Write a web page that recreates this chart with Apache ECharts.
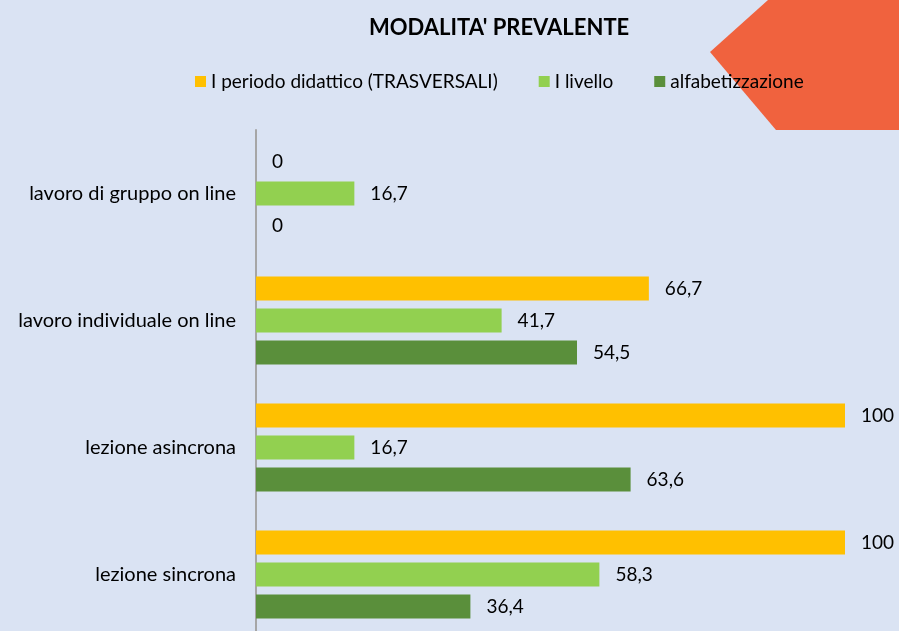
<!DOCTYPE html>
<html>
<head>
<meta charset="utf-8">
<script src="https://cdn.jsdelivr.net/npm/echarts@6/dist/echarts.min.js"></script>
<style>
  html, body { margin: 0; padding: 0; background: #dae3f3; }
  #chart { width: 899px; height: 631px; }
</style>
</head>
<body>
<div id="chart"></div>
<script>
    // categorie dall'alto verso il basso
    var categorie = ['lavoro di gruppo on line', 'lavoro individuale on line', 'lezione asincrona', 'lezione sincrona'];
    var periodo = [0, 66.7, 100, 100];
    var livello = [16.7, 41.7, 16.7, 58.3];
    var alfabetizzazione = [0, 54.5, 63.6, 36.4];

    var font = 'Lato';
    var myChart = echarts.init(document.getElementById('chart'));

    function etichetta(p) {
        return String(p.value).replace('.', ',');
    }

    function serie(nome, dati, colore) {
        return {
            name: nome,
            type: 'bar',
            data: dati,
            barWidth: 24,
            barGap: '33%',
            itemStyle: { color: colore },
            label: {
                show: true,
                position: 'right',
                distance: 16,
                color: '#000',
                fontFamily: font,
                fontSize: 19,
                formatter: etichetta
            }
        };
    }

    var option = {
        backgroundColor: '#dae3f3',
        animation: false,
        title: {
            text: "MODALITA' PREVALENTE",
            left: 364,
            top: 12,
            textStyle: { fontFamily: font, fontSize: 22, fontWeight: 'bold', color: '#000' }
        },
        legend: {
            top: 72,
            left: 195,
            padding: 0,
            itemWidth: 11,
            itemHeight: 11,
            itemGap: 41,
            icon: 'rect',
            textStyle: { fontFamily: font, fontSize: 19, color: '#000' },
            data: ['I periodo didattico (TRASVERSALI)', 'I livello', 'alfabetizzazione']
        },
        graphic: [{
            type: 'polygon',
            z: -1,
            shape: { points: [[768, 0], [899, 0], [899, 130], [776, 130], [710, 52]] },
            style: { fill: '#f0623e' }
        }],
        grid: { left: 256, right: 54, top: 130, bottom: -7, outerBoundsMode: 'none' },
        xAxis: {
            type: 'value',
            min: 0,
            max: 100,
            show: false
        },
        yAxis: {
            type: 'category',
            inverse: true,
            data: categorie,
            axisLine: { lineStyle: { color: '#a6a6a6', width: 2 } },
            axisTick: { show: false },
            axisLabel: { margin: 20, color: '#000', fontFamily: font, fontSize: 20 }
        },
        series: [
            serie('I periodo didattico (TRASVERSALI)', periodo, '#ffc000'),
            serie('I livello', livello, '#92d050'),
            serie('alfabetizzazione', alfabetizzazione, '#5a8f3b')
        ]
    };
    myChart.setOption(option);
</script>
</body>
</html>
